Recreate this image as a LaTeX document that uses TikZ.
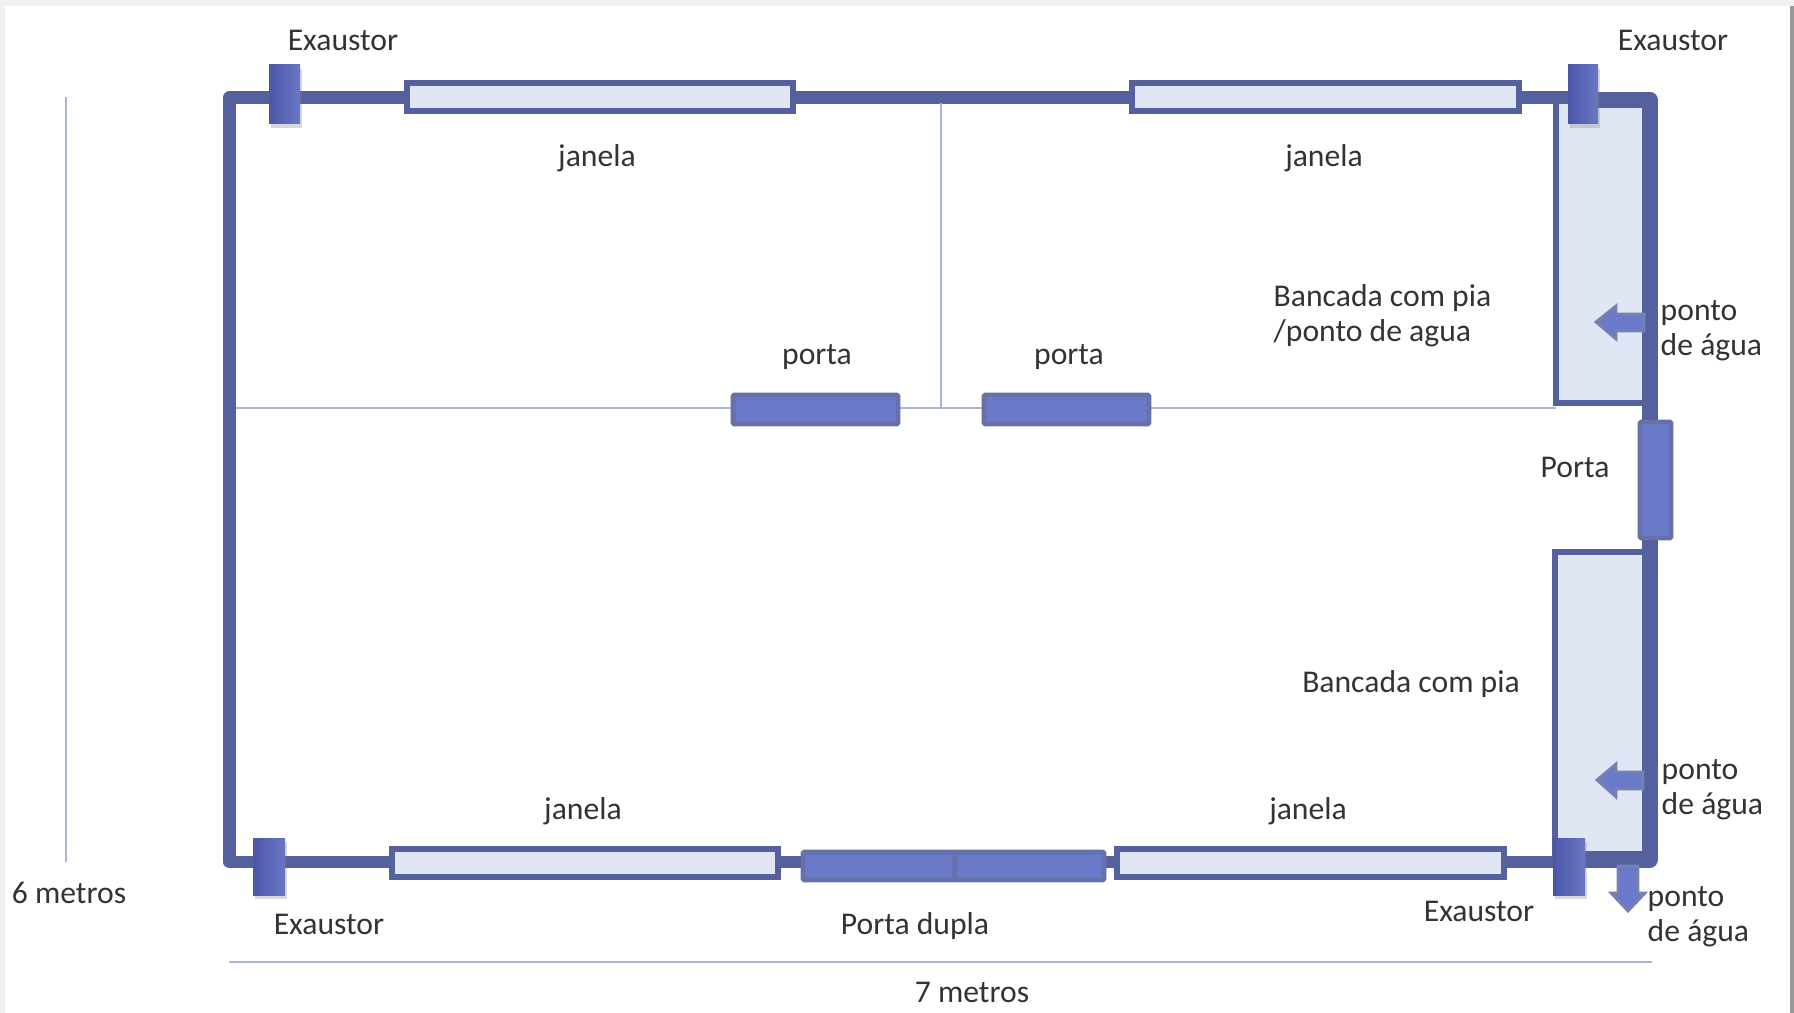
\documentclass[tikz,border=0pt]{standalone}
\usepackage{fontspec}
\setmainfont{Carlito}
\usetikzlibrary{shadows}
\definecolor{wallblue}{HTML}{55609F}
\definecolor{doorblue}{HTML}{6B7AC8}
\definecolor{paneblue}{HTML}{E0E6F4}
\definecolor{thinblue}{HTML}{A9B4E4}
\tikzset{
  wall/.style={draw=wallblue,line width=3.6pt,line cap=butt,line join=round},
  thickwall/.style={draw=wallblue,line width=4.6pt,line cap=butt,line join=round},
  thinline/.style={draw=thinblue,line width=0.8pt},
  pane/.style={draw=wallblue,fill=paneblue,line width=1.7pt},
  door/.style={draw=wallblue!90,fill=doorblue,line width=1.4pt,rounded corners=0.4pt},
  fan/.style={left color=wallblue!90!blue,right color=doorblue!90!wallblue,draw=none,
    drop shadow={shadow xshift=0.5pt,shadow yshift=-1.2pt,opacity=0.3}},
  pipe/.style={fill=doorblue,draw=wallblue!80,line width=0.8pt},
  lbl/.style={inner sep=0pt,text=black!80,font=\fontsize{9}{10}\selectfont},
  lbll/.style={lbl,anchor=west,align=left}
}
\begin{document}
\begin{tikzpicture}[x=0.01cm,y=-0.01cm]
  \useasboundingbox (0,0) rectangle (1794,1013);
  % page edges
  \fill[black!6] (0,0) rectangle (1794,6);
  \fill[black!6] (0,0) rectangle (5,1013);
  \fill[black!40] (1790,6) rectangle (1794,1013);
  % benches
  \draw[pane] (1556,100) rectangle (1648,403);
  \draw[pane] (1555,552) rectangle (1648,860);
  % outer walls
  \draw[wall] (1570,97.5) -- (229.5,97.5) -- (229.5,862) -- (1560,862);
  \draw[thickwall] (1590,100) -- (1650,100) -- (1650,425);
  \draw[thickwall] (1650,535) -- (1650,859.5) -- (1580,859.5);
  % partitions
  \draw[thinline] (236,408) -- (1556,408);
  \draw[thinline] (941,103) -- (941,408);
  % dimensions
  \draw[thinline] (66,97) -- (66,862);
  \draw[thinline] (229,962) -- (1652,962);
  % windows
  \draw[pane] (407,83) rectangle (793,111);
  \draw[pane] (1132,83) rectangle (1519,111);
  \draw[pane] (392,849) rectangle (778,877);
  \draw[pane] (1117,849) rectangle (1504,877);
  % doors
  \draw[door] (733,395) rectangle (898,424);
  \draw[door] (984,395) rectangle (1149,424);
  \draw[door] (803,852) rectangle (955,880);
  \draw[door] (955,852) rectangle (1104,880);
  \draw[door] (1640,422) rectangle (1671,538);
  % water points
  \draw[pipe] (1644,314) -- (1616,314) -- (1616,306) -- (1596,322) -- (1616,339)
  -- (1616,331) -- (1644,331) -- cycle;
  \draw[pipe] (1643,772) -- (1616,772) -- (1616,764) -- (1597,780) -- (1616,797)
  -- (1616,789) -- (1643,789) -- cycle;
  \draw[pipe] (1618,866) -- (1618,893) -- (1611,893) -- (1628,911) -- (1645,893)
  -- (1638,893) -- (1638,866) -- cycle;
  % fans
  \fill[fan] (269,65) rectangle (300,124);
  \fill[fan] (1568,65) rectangle (1598,124);
  \fill[fan] (253,838) rectangle (285,895);
  \fill[fan] (1553,838) rectangle (1585,895);
  % labels
  \node[lbl] (fanTL) at (343,40) {Exaustor};
  \node[lbl] (fanTR) at (1673,40) {Exaustor};
  \node[lbl] (fanBL) at (329,924) {Exaustor};
  \node[lbl] (fanBR) at (1479,911) {Exaustor};
  \node[lbl] (winTL) at (597,158) {janela};
  \node[lbl] (winTR) at (1324,158) {janela};
  \node[lbl] (winBL) at (583,811) {janela};
  \node[lbl] (winBR) at (1308,811) {janela};
  \node[lbl] (doorA) at (817,357) {porta};
  \node[lbl] (doorB) at (1069,357) {porta};
  \node[lbl] (doorC) at (1575,467) {Porta};
  \node[lbl] (doorD) at (915,926) {Porta dupla};
  \node[lbll] (benchA) at (1273,316) {Bancada com pia\\/ponto de agua};
  \node[lbl] (benchB) at (1411,684) {Bancada com pia};
  \node[lbll] (waterA) at (1660,331) {ponto\\de água};
  \node[lbll] (waterB) at (1661,790) {ponto\\de água};
  \node[lbll] (waterC) at (1647,917) {ponto\\de água};
  \node[lbl] (sizeH) at (69,893) {6 metros};
  \node[lbl] (sizeW) at (972,992) {7 metros};
\end{tikzpicture}
\end{document}
